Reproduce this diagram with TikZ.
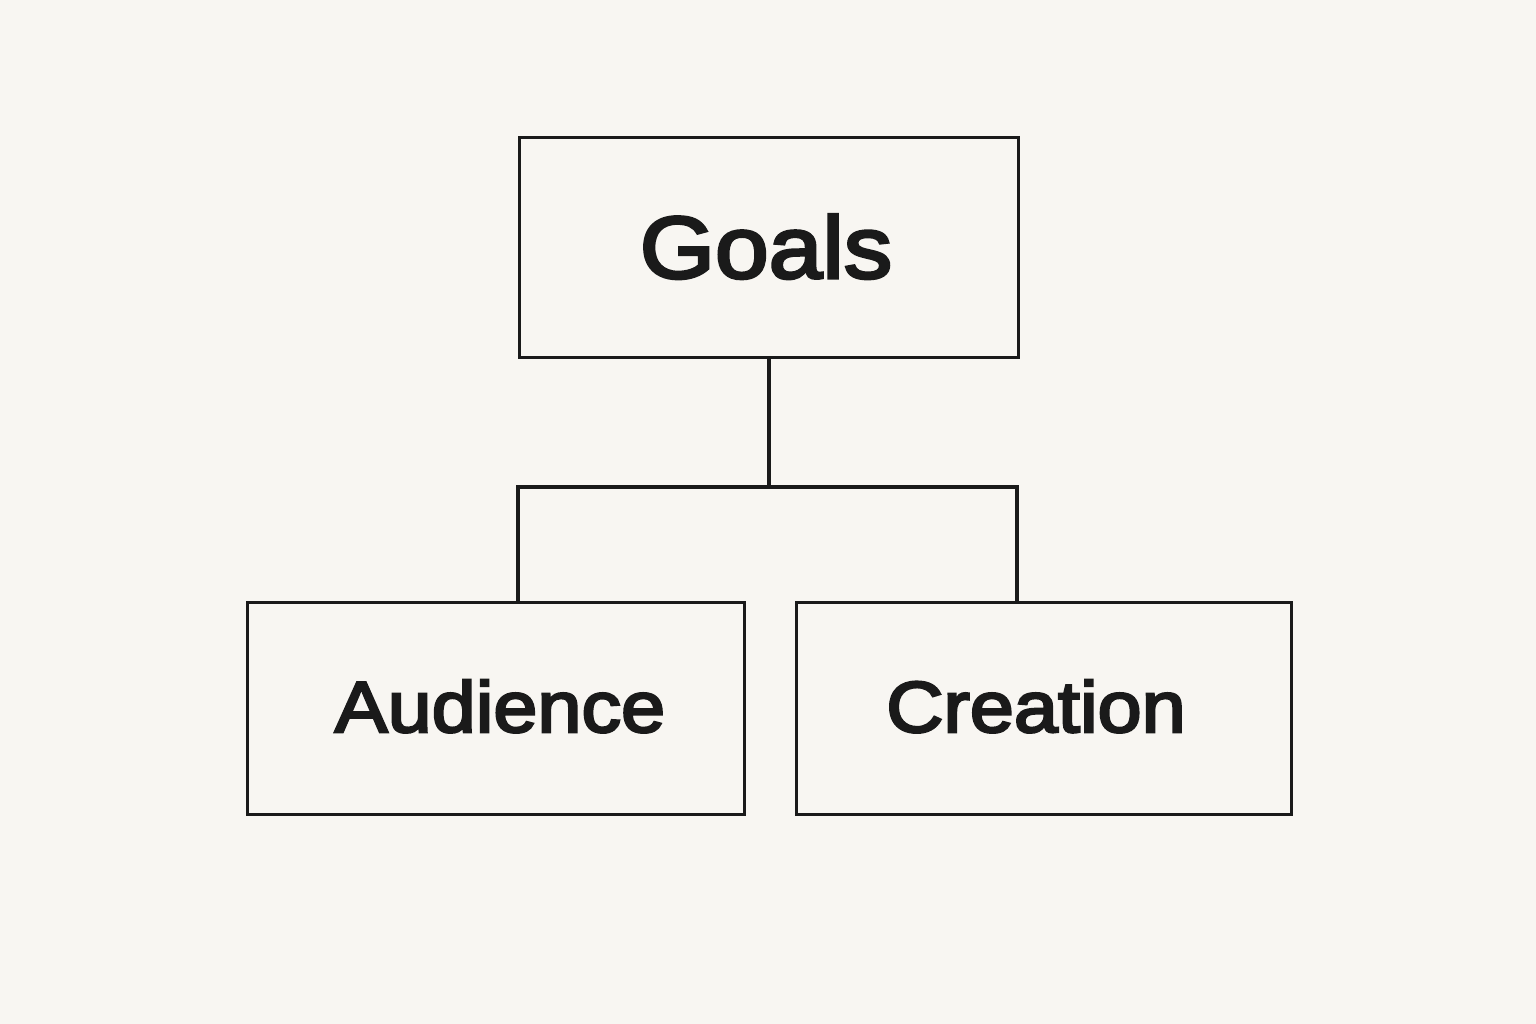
\documentclass[tikz,border=0pt]{standalone}
\usepackage{fontspec}
\setmainfont{Liberation Sans}
\newfontfamily\lblfont{Liberation Sans}[FakeBold=3.5,FakeStretch=1.1]
\definecolor{bg}{HTML}{F8F6F2}
\definecolor{ink}{HTML}{1A1A1A}
\begin{document}
\begin{tikzpicture}[x=0.02cm,y=-0.02cm,
  box/.style={draw=ink,line width=1.8pt,fill=bg,inner sep=0pt,anchor=north west},
  conn/.style={draw=ink,line width=1.9pt},
  lbl/.style={text=ink,inner sep=0pt}]
\fill[bg] (0,0) rectangle (1536,1024);
\useasboundingbox (0,0) rectangle (1536,1024);
\node[box,minimum width=499*0.02cm,minimum height=220*0.02cm] (goals) at (518,136) {};
\node[box,minimum width=497*0.02cm,minimum height=212*0.02cm] (aud) at (246,601) {};
\node[box,minimum width=495*0.02cm,minimum height=212*0.02cm] (cre) at (795,601) {};
\node[lbl,anchor=base,font=\fontsize{50}{52}\lblfont] at (766,278) {Goals};
\node[lbl,anchor=base,font=\fontsize{41}{43}\lblfont] at (500,732) {Audience};
\node[lbl,anchor=base,font=\fontsize{41}{43}\lblfont] at (1036,732) {Creation};
\coordinate (jl) at (518,487);
\coordinate (jr) at (1017,487);
\draw[conn] (goals.south) -- (goals.south |- jl);
\draw[conn,line join=miter] (aud.north -| jl) -- (jl) -- (jr) -- (cre.north -| jr);
\end{tikzpicture}
\end{document}
